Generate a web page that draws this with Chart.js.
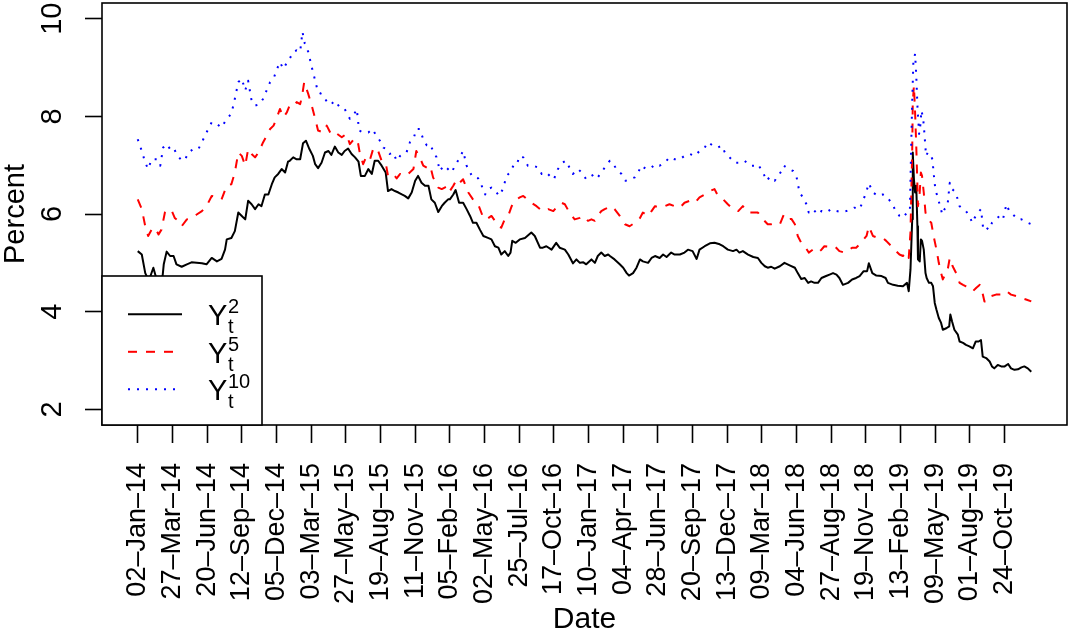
<!DOCTYPE html>
<html>
<head>
<meta charset="utf-8">
<title>Yields</title>
<script src="https://cdn.jsdelivr.net/npm/chart.js@4.4.1/dist/chart.umd.min.js"></script>
<style>
  html, body { margin: 0; padding: 0; background: #fff; }
  canvas { display: block; }
</style>
</head>
<body>
<canvas id="c" width="1068" height="635"></canvas>
<script>
// Observation count (trading days) and the dated ticks every 60 observations
const nObs = 1547;
const tickObs = [1, 61, 121, 181, 241, 301, 361, 421, 481, 541, 601, 661, 721, 781, 841, 901, 961, 1021, 1081, 1141, 1201, 1261, 1321, 1381, 1441, 1501];
const dateLabels = ['02–Jan–14', '27–Mar–14', '20–Jun–14', '12–Sep–14', '05–Dec–14', '03–Mar–15', '27–May–15', '19–Aug–15', '11–Nov–15', '05–Feb–16', '02–May–16', '25–Jul–16', '17–Oct–16', '10–Jan–17', '04–Apr–17', '28–Jun–17', '20–Sep–17', '13–Dec–17', '09–Mar–18', '04–Jun–18', '27–Aug–18', '19–Nov–18', '13–Feb–19', '09–May–19', '01–Aug–19', '24–Oct–19'];
const yTicks = [2, 4, 6, 8, 10];

// 2-year yield (percent)
const y2Obs = [1,8,14,19,23,28,33,38,44,46,51,57,63,68,77,86,94,103,112,120,129,138,146,152,155,163,169,175,181,187,192,198,204,210,215,221,227,233,238,244,250,256,261,
  264,270,276,282,287,292,298,304,308,313,319,325,331,336,342,348,354,359,365,371,377,383,387,394,400,406,411,417,423,430,434,440,446,452,458,463,469,475,481,486,492,498,504,509,515,521,527,532,538,
  541,547,551,557,564,570,576,581,587,593,599,607,613,619,625,630,636,642,646,649,655,662,671,676,682,688,697,702,708,717,725,731,740,746,754,760,766,772,777,786,792,797,803,809,815,
  818,826,835,841,847,851,858,864,870,875,884,890,896,904,910,916,924,930,939,947,953,961,968,973,982,991,999,1008,1014,1022,1031,1037,1042,1048,1057,1066,1074,1080,1086,1091,
  1097,1103,1112,1120,1129,1138,1143,1149,1155,1161,1166,1172,1178,1184,1192,1198,1204,1210,1215,1221,1230,1237,1244,1250,1257,1263,1266,1272,1279,1288,1295,1299,1308,1316,1325,
  1332,1335,1338,1341,1342,1344,1346,1348,1350,1351,1354,1356,1358,1361,1364,1366,1370,1374,1377,1380,1383,1387,1391,1394,1400,1405,1407,1410,1414,1420,1423,1429,1434,1440,1446,1451,1456,1460,1463,1469,1475,1479,1483,1489,1495,1501,1507,1512,1518,1524,1530,1535,1541,1547];
const y2Val = [5.24,5.17,4.79,4.66,4.73,4.90,4.69,4.67,4.73,4.97,5.23,5.14,5.14,4.97,4.92,4.97,5.01,5.00,4.99,4.97,5.10,5.03,5.08,5.27,5.48,5.51,5.65,6.03,5.96,5.89,6.27,6.20,6.10,6.20,6.16,6.40,6.40,6.61,6.75,6.82,6.92,6.85,7.07,
  7.09,7.16,7.12,7.12,7.45,7.50,7.33,7.19,7.02,6.94,7.05,7.26,7.29,7.21,7.38,7.26,7.21,7.29,7.34,7.23,7.16,7.07,6.78,6.78,6.92,6.82,7.09,7.09,6.99,6.85,6.47,6.51,6.47,6.44,6.40,6.37,6.32,6.44,6.68,6.78,6.64,6.58,6.58,6.30,6.23,6.04,6.16,6.23,6.30,
  6.30,6.40,6.49,6.23,6.23,6.10,5.96,5.82,5.82,5.68,5.55,5.51,5.48,5.34,5.31,5.17,5.24,5.14,5.21,5.45,5.41,5.48,5.51,5.56,5.62,5.55,5.31,5.31,5.34,5.27,5.41,5.31,5.27,5.17,4.99,5.07,5.00,5.01,4.97,5.07,5.00,5.14,5.21,5.14,5.17,
  5.14,5.07,4.97,4.90,4.79,4.74,4.79,4.90,5.07,5.03,5.00,5.10,5.14,5.10,5.17,5.12,5.21,5.17,5.17,5.21,5.27,5.24,5.08,5.27,5.34,5.40,5.41,5.38,5.34,5.27,5.24,5.27,5.21,5.24,5.17,5.12,5.10,5.00,4.93,4.90,
  4.92,4.88,4.93,5.00,4.95,4.90,4.79,4.67,4.69,4.59,4.62,4.59,4.59,4.69,4.73,4.76,4.79,4.76,4.69,4.55,4.59,4.66,4.69,4.73,4.83,4.83,4.99,4.79,4.74,4.73,4.69,4.59,4.55,4.53,4.52,
  4.59,4.42,4.86,5.89,7.26,6.71,6.44,6.58,5.75,5.07,5.03,5.48,5.45,5.27,4.79,4.69,4.59,4.59,4.52,4.18,4.04,3.87,3.77,3.63,3.66,3.70,3.94,3.80,3.63,3.53,3.39,3.36,3.32,3.29,3.25,3.39,3.39,3.42,3.08,3.05,2.98,2.88,2.84,2.91,2.88,2.88,2.93,2.84,2.81,2.82,2.86,2.88,2.84,2.77];

// 5-year yield (percent)
const y5Obs = [1,8,14,19,25,31,37,42,48,54,60,65,71,77,86,94,103,112,120,129,138,146,155,163,169,175,181,187,192,198,204,210,218,224,230,236,241,247,253,259,
  264,270,276,282,285,289,293,296,302,308,313,322,328,334,339,346,354,362,368,375,381,385,391,397,403,409,417,423,430,434,443,449,455,462,469,478,483,489,495,501,507,512,521,527,532,538,
  541,547,553,558,564,573,581,590,599,604,613,619,625,630,636,642,648,653,662,668,675,682,691,697,702,711,720,725,734,740,748,757,766,772,780,786,792,797,803,809,815,
  818,826,835,844,852,861,870,875,884,890,896,904,913,921,930,939,947,956,965,973,982,991,999,1005,1014,1022,1031,1040,1048,1057,1066,1074,1083,1091,
  1097,1106,1112,1119,1126,1132,1138,1143,1149,1155,1162,1169,1178,1184,1189,1198,1207,1215,1224,1230,1237,1244,1250,1257,1262,1266,1273,1282,1290,1296,1305,1313,1319,
  1325,1331,1335,1338,1341,1342,1344,1346,1348,1350,1351,1354,1356,1358,1361,1364,1368,1374,1378,1383,1387,1391,1394,1399,1403,1406,1411,1417,1423,1429,1434,1440,1446,1452,1458,1462,1466,1472,1478,1486,1495,1504,1512,1521,1530,1538,1547];
const y5Val = [6.30,6.10,5.75,5.55,5.68,5.72,5.58,5.68,6.03,6.10,6.06,5.92,5.86,5.75,5.89,5.92,5.99,6.06,6.16,6.37,6.34,6.30,6.58,6.61,6.85,7.26,7.19,6.99,7.33,7.23,7.16,7.26,7.47,7.60,7.74,7.81,7.95,8.15,7.98,8.08,
  8.23,8.21,8.29,8.25,8.39,8.70,8.56,8.46,8.22,7.95,7.71,7.67,7.81,7.67,7.71,7.64,7.57,7.64,7.43,7.53,7.53,7.26,7.02,7.19,7.12,7.36,7.29,7.09,7.05,6.78,6.82,6.73,6.82,6.78,6.82,6.92,7.29,7.16,6.99,6.95,6.99,6.75,6.54,6.51,6.54,6.58,
  6.47,6.58,6.71,6.64,6.71,6.44,6.30,6.20,5.92,5.89,5.96,5.86,5.75,5.72,5.89,5.96,6.16,6.27,6.34,6.37,6.30,6.23,6.16,6.10,6.06,6.10,6.06,6.13,6.23,6.20,6.03,5.89,5.92,5.96,5.86,5.89,5.86,5.96,6.06,6.10,6.13,
  6.16,6.10,5.96,5.79,5.75,5.82,5.92,6.03,5.96,6.06,6.16,6.13,6.16,6.20,6.16,6.13,6.23,6.27,6.23,6.34,6.40,6.47,6.51,6.37,6.30,6.20,6.10,6.06,6.16,6.03,6.03,6.03,5.89,5.79,
  5.79,5.81,5.79,5.99,5.89,5.90,5.79,5.55,5.41,5.34,5.21,5.27,5.21,5.27,5.34,5.33,5.34,5.24,5.21,5.24,5.31,5.31,5.38,5.48,5.55,5.75,5.55,5.51,5.51,5.45,5.34,5.24,5.17,
  5.14,5.21,5.10,5.62,7.26,8.29,8.63,8.08,7.40,6.58,6.16,6.44,6.85,6.78,6.44,6.03,5.89,5.82,5.55,5.27,5.00,4.79,4.66,4.79,4.90,5.10,4.93,4.79,4.59,4.55,4.52,4.49,4.42,4.49,4.55,4.42,4.21,4.21,4.32,4.35,4.35,4.42,4.35,4.32,4.28,4.25,4.21];

// 10-year yield (percent)
const y10Obs = [1,8,14,19,25,34,40,45,51,57,63,68,77,83,89,97,106,112,120,129,138,146,155,163,169,175,181,187,192,198,204,212,218,224,230,236,241,247,253,261,
  264,270,276,282,286,290,296,302,308,313,319,325,331,336,342,351,359,368,374,380,384,391,400,407,414,420,426,432,437,443,449,455,460,466,472,478,483,489,495,501,507,512,518,524,530,535,
  544,550,555,564,570,576,581,590,596,602,607,613,619,626,633,639,645,651,656,662,668,676,685,694,700,708,714,721,728,736,742,748,754,763,769,777,786,792,797,803,809,815,
  818,823,829,838,845,852,861,867,872,881,890,896,904,913,921,930,939,947,956,965,973,982,988,996,1005,1011,1017,1025,1034,1042,1051,1060,1068,1074,1083,1089,1094,
  1097,1103,1109,1115,1119,1126,1135,1141,1146,1152,1158,1162,1169,1178,1184,1192,1201,1210,1218,1227,1236,1241,1250,1256,1262,1266,1273,1282,1290,1296,1305,1311,1319,
  1325,1332,1337,1339,1341,1343,1346,1348,1350,1353,1355,1357,1360,1362,1365,1368,1372,1376,1378,1381,1386,1390,1393,1397,1402,1406,1410,1414,1418,1423,1429,1434,1440,1445,1449,1455,1460,1464,1469,1474,1479,1486,1492,1498,1504,1509,1518,1524,1530,1535,1541,1547];
const y10Val = [7.53,7.29,7.05,6.92,7.12,7.12,6.99,7.36,7.43,7.33,7.36,7.23,7.09,7.12,7.26,7.33,7.33,7.47,7.67,7.88,7.84,7.77,7.95,8.05,8.36,8.70,8.77,8.53,8.73,8.32,8.22,8.25,8.36,8.53,8.70,8.77,8.94,9.11,8.97,9.14,
  9.18,9.32,9.35,9.32,9.73,9.49,9.32,9.01,8.73,8.49,8.46,8.36,8.25,8.25,8.32,8.18,8.15,7.95,8.01,8.15,7.71,7.67,7.67,7.74,7.60,7.50,7.36,7.33,7.23,7.26,7.09,7.19,7.23,7.26,7.47,7.53,7.74,7.74,7.53,7.41,7.43,7.29,7.16,6.88,6.99,6.95,
  6.85,6.99,7.09,7.29,6.99,6.85,6.75,6.73,6.58,6.40,6.51,6.54,6.49,6.37,6.51,6.78,6.85,6.99,6.99,7.19,7.16,6.99,6.99,6.95,6.82,6.85,6.78,6.71,6.92,7.05,7.09,6.95,6.82,6.92,6.85,6.71,6.78,6.82,6.75,6.85,6.95,7.05,
  7.09,7.05,6.92,6.82,6.68,6.71,6.75,6.85,6.99,6.92,6.95,7.02,6.99,7.05,7.16,7.12,7.12,7.19,7.23,7.19,7.29,7.36,7.47,7.40,7.36,7.40,7.26,7.16,7.05,7.05,7.09,6.99,6.99,7.02,6.85,6.68,6.75,
  6.75,6.68,6.78,6.88,6.99,6.93,6.88,6.75,6.44,6.34,6.20,6.03,6.10,5.99,6.06,6.03,6.10,6.06,6.04,6.06,6.10,6.13,6.10,6.27,6.47,6.63,6.44,6.37,6.40,6.37,6.23,6.10,5.96,
  5.92,6.03,6.06,7.26,8.29,9.11,9.28,8.84,8.22,7.64,7.81,8.12,7.95,7.67,7.19,7.26,7.23,7.12,6.85,6.51,6.30,6.13,5.99,6.10,6.16,6.64,6.51,6.47,6.37,6.16,6.10,6.06,5.96,5.82,5.92,6.03,6.10,5.68,5.72,5.68,5.82,5.89,5.96,5.89,6.20,6.06,5.96,5.89,5.89,5.86,5.82,5.79];

const legendSup = ['2', '5', '10'];
const FONT = '"Liberation Sans", Arial, Helvetica, sans-serif';

const series = [
  { obs: y2Obs, val: y2Val, color: '#000000', dash: [], order: 3 },
  { obs: y5Obs, val: y5Val, color: '#FF0000', dash: [9, 9], order: 2 },
  { obs: y10Obs, val: y10Val, color: '#0000FF', dash: [2, 7], order: 1 }
];

// Box, rotated y tick labels and the plotmath-style legend
const framePlugin = {
  id: 'frame',
  afterDraw(chart) {
    const { ctx, chartArea: a, scales } = chart;
    ctx.save();
    ctx.fillStyle = '#000';
    ctx.font = '29px ' + FONT;
    ctx.textAlign = 'center';
    ctx.textBaseline = 'alphabetic';
    const ys = scales.y;
    ys.ticks.forEach(t => {
      const py = ys.getPixelForValue(t.value);
      ctx.save();
      ctx.translate(a.left - 41, py);
      ctx.rotate(-Math.PI / 2);
      ctx.fillText(String(t.value), 0, 0);
      ctx.restore();
    });

    ctx.lineWidth = 1.6;
    ctx.strokeStyle = '#000';
    ctx.strokeRect(a.left, a.top, a.right - a.left, a.bottom - a.top);

    // legend box in the lower-left corner
    const bw = 160, bh = 149;
    const bx = a.left, by = a.bottom - bh;
    ctx.fillStyle = '#fff';
    ctx.fillRect(bx, by, bw, bh);
    ctx.strokeRect(bx, by, bw, bh);
    series.forEach((s, k) => {
      const off = 37.5 * k;
      ctx.save();
      ctx.strokeStyle = s.color;
      ctx.lineWidth = 2;
      ctx.setLineDash(s.dash);
      ctx.beginPath();
      ctx.moveTo(bx + 26, by + 38.3 + off);
      ctx.lineTo(bx + 80, by + 38.3 + off);
      ctx.stroke();
      ctx.restore();
      ctx.fillStyle = '#000';
      ctx.textAlign = 'left';
      ctx.font = '29px ' + FONT;
      ctx.fillText('Y', bx + 106, by + 49 + off);
      ctx.font = '20px ' + FONT;
      ctx.fillText('t', bx + 126, by + 57 + off);
      ctx.fillText(legendSup[k], bx + 126, by + 37 + off);
    });
    ctx.restore();
  }
};

const xPad = 0.04 * (nObs - 1);

new Chart(document.getElementById('c'), {
  type: 'line',
  data: {
    datasets: series.map(s => ({
      data: s.obs.map((x, i) => ({ x: x, y: s.val[i] })),
      borderColor: s.color,
      borderWidth: 2,
      borderDash: s.dash,
      borderCapStyle: 'butt',
      borderJoinStyle: 'round',
      pointRadius: 0,
      tension: 0,
      fill: false,
      order: s.order
    }))
  },
  options: {
    responsive: false,
    devicePixelRatio: 1,
    animation: false,
    events: [],
    layout: { padding: { top: 3, right: 1, left: 0, bottom: 0 } },
    plugins: { legend: { display: false }, tooltip: { enabled: false } },
    scales: {
      x: {
        type: 'linear',
        min: 1 - xPad,
        max: nObs + xPad,
        afterBuildTicks: s => { s.ticks = tickObs.map(v => ({ value: v })); },
        afterFit: s => { s.height = 210; },
        ticks: {
          autoSkip: false,
          minRotation: 90,
          maxRotation: 90,
          padding: 20,
          color: '#000',
          font: { family: FONT, size: 27 },
          callback: (v, i) => dateLabels[i]
        },
        grid: { drawOnChartArea: false, drawTicks: true, tickLength: 18, tickWidth: 1.6, tickColor: '#000' },
        border: { display: false },
        title: { display: true, text: 'Date', color: '#000', font: { family: FONT, size: 30, lineHeight: 1 }, padding: { top: 0, bottom: 0 } }
      },
      y: {
        type: 'linear',
        min: 1.68,
        max: 10.32,
        afterBuildTicks: s => { s.ticks = yTicks.map(v => ({ value: v })); },
        afterFit: s => { s.width = 102; },
        ticks: { display: false },
        grid: { drawOnChartArea: false, drawTicks: true, tickLength: 17, tickWidth: 1.6, tickColor: '#000' },
        border: { display: false },
        title: { display: true, text: 'Percent', color: '#000', font: { family: FONT, size: 29, lineHeight: 1 }, padding: { top: 1.5, bottom: 0 } }
      }
    }
  },
  plugins: [framePlugin]
});
</script>
</body>
</html>
